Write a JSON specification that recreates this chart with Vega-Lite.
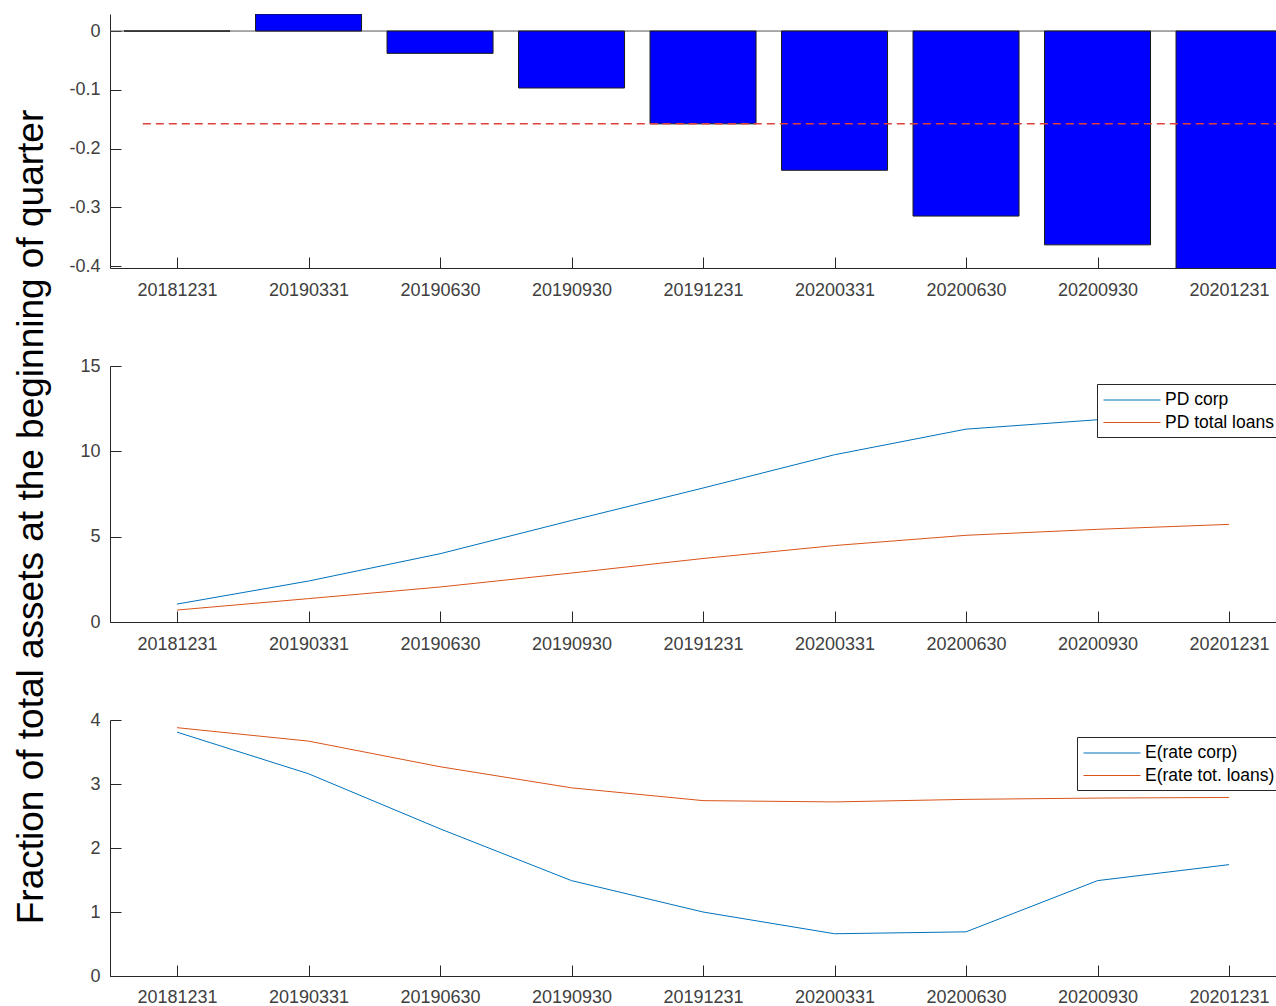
{
  "$schema": "https://vega.github.io/schema/vega-lite/v6.json",
  "autosize": "none",
  "padding": {"left": 110, "top": 14, "right": 1166, "bottom": 992},
  "bounds": "flush",
  "spacing": 98,
  "config": {
    "view": {"stroke": null},
    "font": "Liberation Sans",
    "axis": {
      "domainColor": "#262626",
      "tickColor": "#262626",
      "labelColor": "#404040",
      "labelFont": "Liberation Sans",
      "labelFontSize": 18,
      "grid": false,
      "tickSize": -11,
      "domainWidth": 1,
      "tickWidth": 1
    },
    "axisX": {"labelPadding": 24.5, "labelAngle": 0, "title": null},
    "axisY": {"labelPadding": 21},
    "legend": {
      "symbolType": "M-1,0H5",
      "symbolSize": 361,
      "symbolStrokeWidth": 1,
      "labelOffset": 42,
      "labelFontSize": 17.5,
      "labelFont": "Liberation Sans",
      "labelColor": "#000000",
      "strokeColor": "#262626",
      "fillColor": "#FFFFFF",
      "padding": 6,
      "rowPadding": 3.5,
      "cornerRadius": 0
    }
  },
  "datasets": {
    "bars": [
      {"date": "20181231", "change": 0},
      {"date": "20190331", "change": 0.029},
      {"date": "20190630", "change": -0.038},
      {"date": "20190930", "change": -0.097},
      {"date": "20191231", "change": -0.158},
      {"date": "20200331", "change": -0.237},
      {"date": "20200630", "change": -0.315},
      {"date": "20200930", "change": -0.364},
      {"date": "20201231", "change": -0.45}
    ],
    "baseline": [
      {"level": 0}
    ],
    "threshold": [
      {"from": -0.26, "to": 9, "level": -0.158}
    ],
    "pd": [
      {"date": "20181231", "series": "PD corp", "value": 1.05},
      {"date": "20190331", "series": "PD corp", "value": 2.4},
      {"date": "20190630", "series": "PD corp", "value": 4.0},
      {"date": "20190930", "series": "PD corp", "value": 5.95},
      {"date": "20191231", "series": "PD corp", "value": 7.85},
      {"date": "20200331", "series": "PD corp", "value": 9.8},
      {"date": "20200630", "series": "PD corp", "value": 11.3},
      {"date": "20200930", "series": "PD corp", "value": 11.85},
      {"date": "20201231", "series": "PD corp", "value": 12.3},
      {"date": "20181231", "series": "PD total loans", "value": 0.7},
      {"date": "20190331", "series": "PD total loans", "value": 1.37},
      {"date": "20190630", "series": "PD total loans", "value": 2.05},
      {"date": "20190930", "series": "PD total loans", "value": 2.87},
      {"date": "20191231", "series": "PD total loans", "value": 3.72},
      {"date": "20200331", "series": "PD total loans", "value": 4.48},
      {"date": "20200630", "series": "PD total loans", "value": 5.08},
      {"date": "20200930", "series": "PD total loans", "value": 5.43},
      {"date": "20201231", "series": "PD total loans", "value": 5.72}
    ],
    "rates": [
      {"date": "20181231", "series": "E(rate corp)", "value": 3.81},
      {"date": "20190331", "series": "E(rate corp)", "value": 3.16},
      {"date": "20190630", "series": "E(rate corp)", "value": 2.3},
      {"date": "20190930", "series": "E(rate corp)", "value": 1.49},
      {"date": "20191231", "series": "E(rate corp)", "value": 1.0},
      {"date": "20200331", "series": "E(rate corp)", "value": 0.66},
      {"date": "20200630", "series": "E(rate corp)", "value": 0.69},
      {"date": "20200930", "series": "E(rate corp)", "value": 1.49},
      {"date": "20201231", "series": "E(rate corp)", "value": 1.74},
      {"date": "20181231", "series": "E(rate tot. loans)", "value": 3.88},
      {"date": "20190331", "series": "E(rate tot. loans)", "value": 3.67},
      {"date": "20190630", "series": "E(rate tot. loans)", "value": 3.27},
      {"date": "20190930", "series": "E(rate tot. loans)", "value": 2.94},
      {"date": "20191231", "series": "E(rate tot. loans)", "value": 2.74},
      {"date": "20200331", "series": "E(rate tot. loans)", "value": 2.72},
      {"date": "20200630", "series": "E(rate tot. loans)", "value": 2.76},
      {"date": "20200930", "series": "E(rate tot. loans)", "value": 2.78},
      {"date": "20201231", "series": "E(rate tot. loans)", "value": 2.79}
    ]
  },
  "vconcat": [
    {
      "width": 1166,
      "height": 254,
      "layer": [
        {
          "data": {"name": "baseline"},
          "mark": {"type": "rule", "color": "#555555", "strokeWidth": 1},
          "encoding": {"y": {"field": "level", "type": "quantitative"}}
        },
        {
          "data": {"name": "bars"},
          "mark": {"type": "bar", "width": 106, "fill": "#0000FF", "stroke": "#1a1a1a", "strokeWidth": 1, "clip": true},
          "encoding": {
            "x": {"field": "date", "type": "ordinal", "scale": {"type": "point", "padding": 0.4335, "align": 0.588}, "axis": {"title": null, "labelAngle": 0}},
            "y": {"field": "change", "type": "quantitative", "scale": {"domain": [-0.4034, 0.029], "nice": false, "zero": false}, "axis": {"values": [-0.4, -0.3, -0.2, -0.1, 0], "labelExpr": "replace(format(datum.value, '~g'), '\u2212', '-')", "title": null}}
          }
        },
        {
          "data": {"name": "threshold"},
          "mark": {"type": "rule", "strokeDash": [8, 5], "color": "#E0403A", "strokeWidth": 1.5, "clip": true},
          "encoding": {
            "x": {"field": "from", "type": "quantitative", "scale": {"domain": [-0.5095, 8.357], "nice": false, "zero": false}, "axis": null},
            "x2": {"field": "to"},
            "y": {"field": "level", "type": "quantitative"}
          }
        }
      ],
      "resolve": {"scale": {"x": "independent"}, "axis": {"x": "independent"}}
    },
    {
      "width": 1166,
      "height": 256,
      "data": {"name": "pd"},
      "mark": {"type": "line", "strokeWidth": 1},
      "encoding": {
        "x": {"field": "date", "type": "ordinal", "scale": {"type": "point", "padding": 0.4335, "align": 0.588}, "axis": {"title": null, "labelAngle": 0}},
        "y": {"field": "value", "type": "quantitative", "scale": {"domain": [0, 15], "nice": false}, "axis": {"values": [0, 5, 10, 15], "title": "Fraction of total assets at the beginning of quarter", "titleFontSize": 37, "titleFont": "Liberation Sans", "titleFontWeight": "normal", "titleColor": "#000000", "titleX": -68, "titleY": 150.5, "titleAngle": 270, "titleAlign": "center", "titleBaseline": "alphabetic"}},
        "color": {"field": "series", "type": "nominal", "scale": {"domain": ["PD corp", "PD total loans"], "range": ["#0072BD", "#D95319"]}, "legend": {"title": null, "orient": "none", "legendX": 987, "legendY": 18}}
      }
    },
    {
      "width": 1166,
      "height": 256,
      "data": {"name": "rates"},
      "mark": {"type": "line", "strokeWidth": 1},
      "encoding": {
        "x": {"field": "date", "type": "ordinal", "scale": {"type": "point", "padding": 0.4335, "align": 0.588}, "axis": {"title": null, "labelAngle": 0, "labelPadding": 23}},
        "y": {"field": "value", "type": "quantitative", "scale": {"domain": [0, 4], "nice": false}, "axis": {"values": [0, 1, 2, 3, 4], "title": null}},
        "color": {"field": "series", "type": "nominal", "scale": {"domain": ["E(rate corp)", "E(rate tot. loans)"], "range": ["#0072BD", "#D95319"]}, "legend": {"title": null, "orient": "none", "legendX": 967, "legendY": 17}}
      }
    }
  ],
  "resolve": {"scale": {"color": "independent"}}
}
